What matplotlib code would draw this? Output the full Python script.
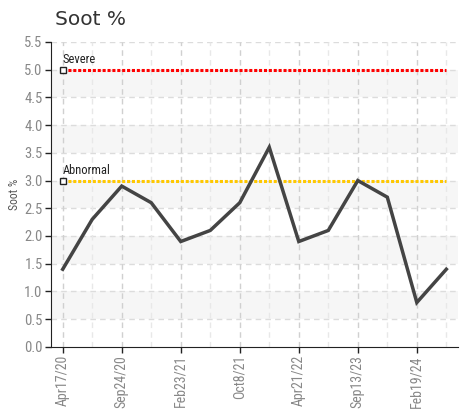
import numpy as np
import matplotlib
matplotlib.use('Agg')
import matplotlib.pyplot as plt

# ─── Data ────────────────────────────────────────────────────────────────────
soot = [1.4, 2.3, 2.9, 2.6, 1.9, 2.1, 2.6, 3.6, 1.9, 2.1, 3.0, 2.7, 0.8, 1.4]
tick_idx = [0, 2, 4, 6, 8, 10, 12]
tick_labels = ['Apr17/20', 'Sep24/20', 'Feb23/21', 'Oct8/21',
               'Apr21/22', 'Sep13/23', 'Feb19/24']
limits = [('Severe', 5.0, '#ff0000'), ('Abnormal', 3.0, '#ffc800')]
y_ticks = np.arange(0, 5.51, 0.5)

narrow = ['Roboto Condensed', 'Archivo Narrow', 'DejaVu Sans']

fig = plt.figure(figsize=(4.67, 4.11), dpi=100, facecolor='white')
ax = fig.add_axes([0.109, 0.156, 0.872, 0.742])

x = np.arange(len(soot))
ax.set_xlim(-0.4, 13.4)
ax.set_ylim(0, 5.5)

# alternating bands
for i in range(len(y_ticks) - 1):
    if i % 2 == 1:
        ax.axhspan(y_ticks[i], y_ticks[i + 1], color='#f6f6f6', zorder=0, lw=0)

# grid
for yv in y_ticks[1:]:
    ax.axhline(yv, color='#dcdcdc', lw=1, ls=(0, (4, 3)), zorder=1)
for xi in x:
    major = xi in tick_idx
    ax.axvline(xi, color='#d0d0d0' if major else '#e8e8e8', lw=1,
               ls=(0, (4, 3)), zorder=1)

# limit lines
for name, val, col in limits:
    ax.plot([x[0], x[-1]], [val, val], color=col, lw=2.2, ls=(0, (1, 0.6)), zorder=2)
    ax.plot(x[0], val, marker='s', ms=4, mfc='white', mec='#222222', mew=1, zorder=4)
    ax.text(x[0], val + 0.06, name, fontsize=9, color='#222222',
            family=narrow, ha='left', va='bottom', zorder=4)

ax.plot(x, soot, color='#444444', lw=2.5, zorder=3, solid_joinstyle='miter')

ax.set_xticks(tick_idx)
ax.set_xticklabels(tick_labels, rotation=90, family=narrow, fontsize=10, color='#888888')
ax.set_yticks(y_ticks)
ax.set_yticklabels([f'{v:.1f}' for v in y_ticks], family=narrow, fontsize=10.5, color='#888888')
ax.tick_params(direction='out', length=4, width=1, color='#222222', pad=2)
ax.set_ylabel('Soot %', family=narrow, fontsize=8.5, color='#555555', labelpad=2)

for s in ['top', 'right']:
    ax.spines[s].set_visible(False)
for s in ['left', 'bottom']:
    ax.spines[s].set_color('#222222')

fig.text(0.118, 0.975, 'Soot %', fontsize=14.5, color='#333333', ha='left', va='top')

fig.savefig('out.png', dpi=100, facecolor='white')
